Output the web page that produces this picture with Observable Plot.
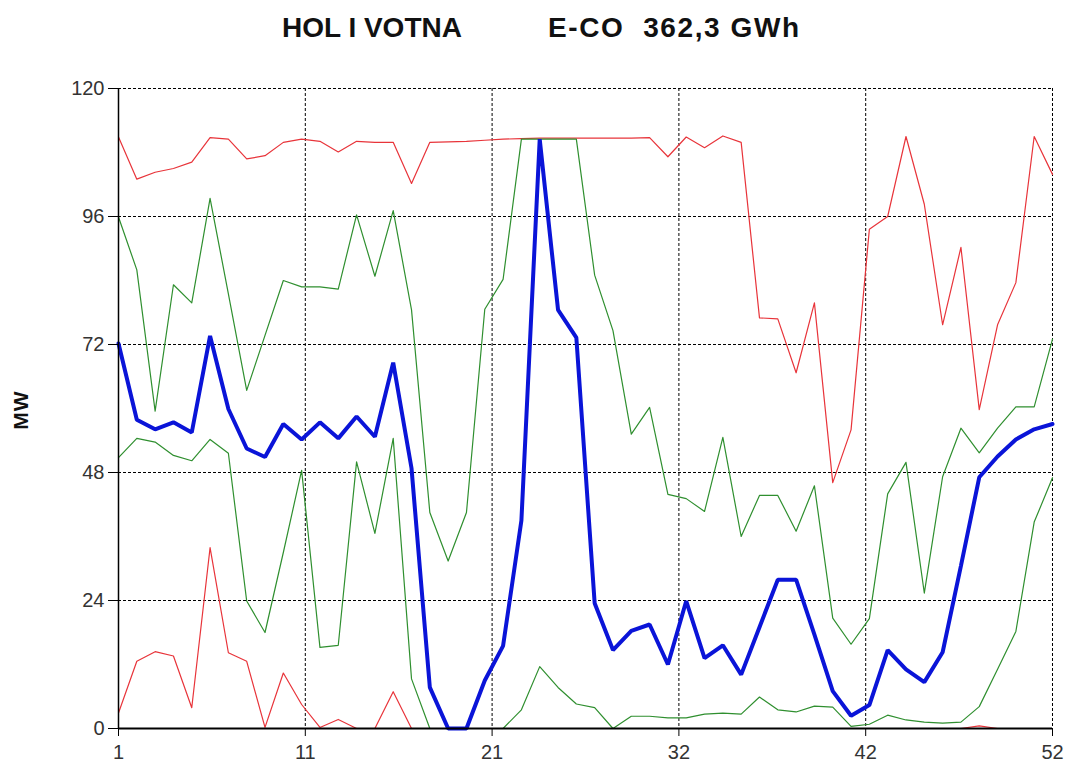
<!DOCTYPE html>
<html>
<head>
<meta charset="utf-8">
<script src="https://cdn.jsdelivr.net/npm/d3@7"></script>
<script src="https://cdn.jsdelivr.net/npm/@observablehq/plot@0.6"></script>
<style>
  html, body { margin: 0; padding: 0; background: #fff; }
  #wrap { position: relative; width: 1066px; height: 769px; font-family: "Liberation Sans", Arial, sans-serif; }
  #title { position: absolute; top: 14px; left: 282px; font-weight: bold; font-size: 28px; line-height: 28px; color: #111; white-space: pre; }
  #title span { display: inline-block; }
  #ylab { position: absolute; left: 21px; top: 410px; font-weight: bold; font-size: 21px; letter-spacing: 1px; color: #111; transform: translate(-50%, -50%) rotate(-90deg); }
  #chart { position: absolute; left: 0; top: 0; }
</style>
</head>
<body>
<div id="wrap">
  <div id="chart"></div>
  <div id="title"><span style="width:266px">HOL I VOTNA</span><span style="letter-spacing:1.6px">E-CO  362,3 GWh</span></div>
  <div id="ylab">MW</div>
</div>
<script>
const weeks = d3.range(1, 53);
const redUpper = [110.9,103,104.3,105,106.2,110.8,110.5,106.8,107.4,109.9,110.5,110.1,108.1,110.1,109.9,109.9,102.2,109.9,110,110.1,110.3,110.5,110.6,110.7,110.7,110.7,110.7,110.7,110.7,110.8,107.2,110.9,108.9,111.1,109.9,77,76.8,66.7,79.8,46.1,56,93.6,96,111,98.3,75.7,90.2,59.8,75.7,83.6,111,103.9];
const greenUpper = [95.9,86,59.5,83.2,79.8,99.4,81.5,63.4,73.7,84,82.8,82.8,82.4,96.3,84.8,97.1,78.5,40.5,31.4,40.5,78.6,84.2,110.5,110.5,110.5,110.5,85,74.6,55.2,60.2,43.9,43.1,40.7,54.6,36,43.7,43.7,37,45.5,20.7,15.8,20.6,44,49.9,25.4,47.2,56.3,51.7,56.3,60.3,60.3,73];
const blueMid = [72.2,57.9,56.1,57.4,55.5,73.6,59.9,52.5,50.9,57.1,54.2,57.4,54.4,58.5,54.7,68.6,48.8,7.7,0,0,9,15.5,39,110.5,78.5,73.3,23.5,14.7,18.3,19.5,12,23.9,13.2,15.6,10.1,19,27.9,27.9,17.6,7,2.4,4.4,14.7,11.1,8.7,14.3,30.5,47.1,51,54.2,56.1,57.1];
const greenLower = [50.8,54.4,53.7,51.2,50.2,54.2,51.6,23.9,18,33,48.4,15.2,15.6,50,36.6,54.4,9.3,0,0,0,0,0,3.5,11.6,7.7,4.6,3.9,0,2.3,2.3,2,2,2.7,2.9,2.7,5.9,3.5,3.1,4.2,4,0.4,0.8,2.5,1.6,1.2,1,1.2,4.1,11.1,18.2,38.7,47];
const redLower = [2.9,12.6,14.4,13.6,3.9,33.9,14.2,12.6,0.2,10.4,4.5,0.2,1.7,0,0,6.9,0,0,0,0,0,0,0,0,0,0,0,0,0,0,0,0,0,0,0,0,0,0,0,0,0,0,0,0,0,0,0,0.5,0,0,0,0];
const xTicks = [1, 11.2, 21.4, 31.6, 41.8, 52];
const xTickLabels = ["1", "11", "21", "32", "42", "52"];
const yTicks = [0, 24, 48, 72, 96, 120];

const rows = weeks.map((w, i) => ({
  week: w, redUpper: redUpper[i], greenUpper: greenUpper[i], blueMid: blueMid[i],
  greenLower: greenLower[i], redLower: redLower[i]
}));

const RED = "#e8343a", GREEN = "#2f8f2f", BLUE = "#0a14d8";
const chart = Plot.plot({
  width: 1066, height: 769,
  marginTop: 88, marginLeft: 118, marginRight: 14, marginBottom: 41,
  style: { fontFamily: "Liberation Sans, Arial, sans-serif", fontSize: "20px", color: "#333", background: "transparent" },
  x: { domain: [1, 52], label: null },
  y: { domain: [0, 120], label: null },
  marks: [
    Plot.gridY(yTicks.filter(d => d > 0), { stroke: "#000", strokeOpacity: 1, strokeWidth: 1, strokeDasharray: "3,2" }),
    Plot.gridX(xTicks.slice(1), { stroke: "#000", strokeOpacity: 1, strokeWidth: 1, strokeDasharray: "3,2" }),
    Plot.line(rows, { x: "week", y: "redUpper", stroke: RED, strokeWidth: 1.2 }),
    Plot.line(rows, { x: "week", y: "redLower", stroke: RED, strokeWidth: 1.2 }),
    Plot.line(rows, { x: "week", y: "greenUpper", stroke: GREEN, strokeWidth: 1.2 }),
    Plot.line(rows, { x: "week", y: "greenLower", stroke: GREEN, strokeWidth: 1.2 }),
    Plot.line(rows, { x: "week", y: "blueMid", stroke: BLUE, strokeWidth: 4, strokeLinejoin: "miter" }),
    Plot.ruleY([0], { stroke: "#000", strokeWidth: 2 }),
    Plot.ruleX([1], { stroke: "#000", strokeWidth: 1.5 }),
    Plot.axisX(xTicks, { tickFormat: (d, i) => xTickLabels[i], tickSize: 8, tickPadding: 8, stroke: "#000", label: null }),
    Plot.axisY(yTicks, { tickSize: 10, tickPadding: 4, stroke: "#000", label: null })
  ]
});
document.getElementById("chart").appendChild(chart);
</script>
</body>
</html>
